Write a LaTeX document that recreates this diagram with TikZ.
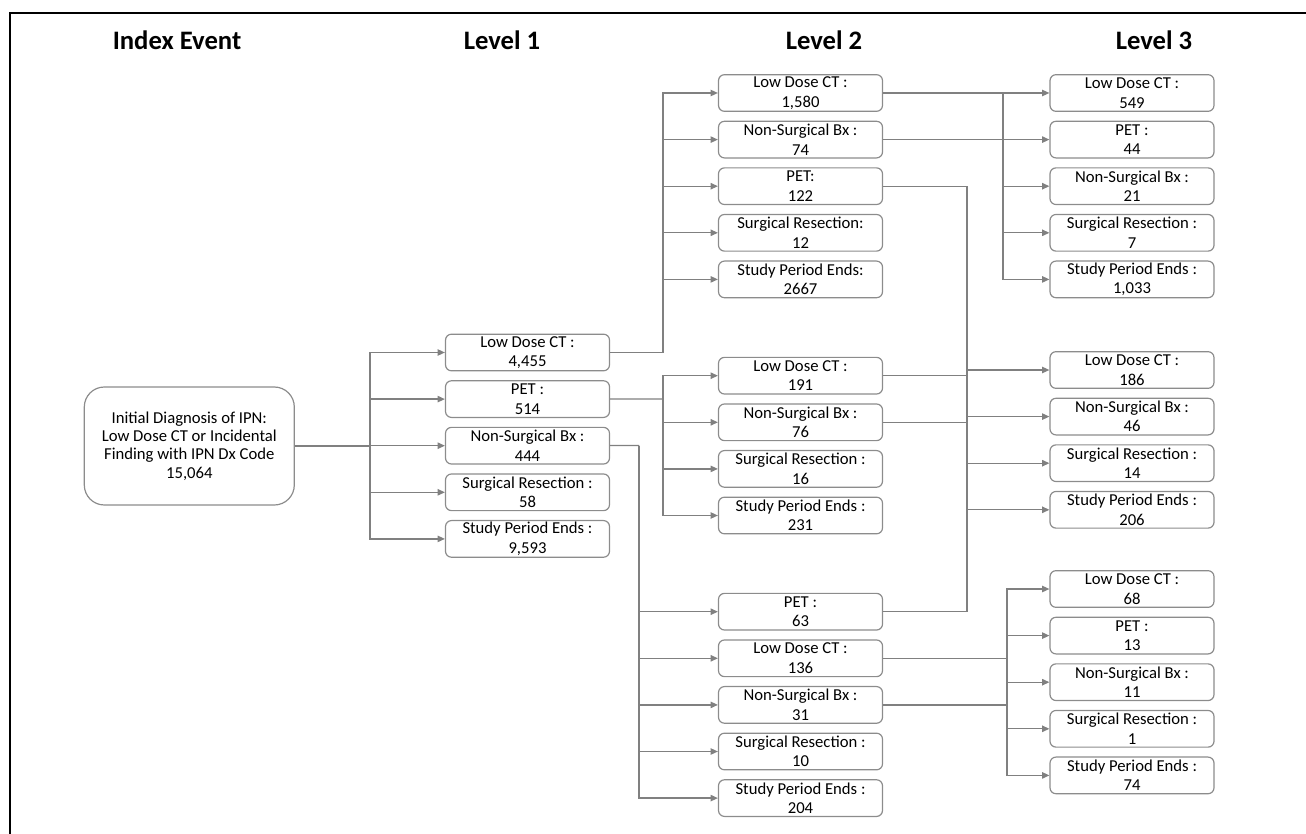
\documentclass[tikz,border=0pt]{standalone}
\usepackage{fontspec}
\setmainfont{Carlito}
\usetikzlibrary{arrows.meta, positioning}
\definecolor{linegray}{RGB}{128,128,128}
\definecolor{boxgray}{RGB}{140,140,140}

\begin{document}
\begin{tikzpicture}[
    x=0.75pt, y=-0.75pt,
    box/.style={rectangle, rounded corners=4.5pt, draw=boxgray, line width=0.9pt,
                minimum width=123pt, minimum height=27.5pt, inner sep=0pt,
                font=\fontsize{12.5}{14.5}\selectfont, align=center},
    head/.style={font=\fontsize{20}{24}\selectfont\bfseries, anchor=base},
    line/.style={draw=linegray, line width=1pt},
    arrow/.style={line, -{Triangle[length=5.5pt, width=4.8pt]}},
    node distance=6.55pt
  ]
    \useasboundingbox (0,0) rectangle (1306,834);
    \draw[line width=1.6pt] (10,834) -- (10,13) -- (1306,13);

    \node[head] (hidx) at (177,50) {Index Event};
    \node[head] (hl1)  at (502,50) {Level 1};
    \node[head] (hl2)  at (824,50) {Level 2};
    \node[head] (hl3)  at (1154,50) {Level 3};

    \node[box, minimum width=157.5pt, minimum height=88.5pt, rounded corners=15pt,
          font=\fontsize{12.5}{13.8}\selectfont]
        (init) at (189.3,446) {Initial Diagnosis of IPN:\\Low Dose CT or Incidental\\Finding with IPN Dx Code\\15,064};

    \node[box] (l1ldct) at (527.5,352.5) {Low Dose CT :\\4,455};
    \node[box, below=of l1ldct] (l1pet) {PET :\\514};
    \node[box, below=of l1pet]  (l1nsb) {Non-Surgical Bx :\\444};
    \node[box, below=of l1nsb]  (l1sr)  {Surgical Resection :\\58};
    \node[box, below=of l1sr]   (l1spe) {Study Period Ends :\\9,593};

    \node[box] (l2ldcta) at (800.5,93) {Low Dose CT :\\1,580};
    \node[box, below=of l2ldcta] (l2nsba) {Non-Surgical Bx :\\74};
    \node[box, below=of l2nsba]  (l2peta) {PET:\\122};
    \node[box, below=of l2peta]  (l2sra)  {Surgical Resection:\\12};
    \node[box, below=of l2sra]   (l2spea) {Study Period Ends:\\2667};

    \node[box] (l2ldctb) at (800.5,375.7) {Low Dose CT :\\191};
    \node[box, below=of l2ldctb] (l2nsbb) {Non-Surgical Bx :\\76};
    \node[box, below=of l2nsbb]  (l2srb)  {Surgical Resection :\\16};
    \node[box, below=of l2srb]   (l2speb) {Study Period Ends :\\231};

    \node[box] (l2petc) at (800.5,611.7) {PET :\\63};
    \node[box, below=of l2petc]  (l2ldctc) {Low Dose CT :\\136};
    \node[box, below=of l2ldctc] (l2nsbc)  {Non-Surgical Bx :\\31};
    \node[box, below=of l2nsbc]  (l2src)   {Surgical Resection :\\10};
    \node[box, below=of l2src]   (l2spec)  {Study Period Ends :\\204};

    \node[box] (l3ldcta) at (1132,93) {Low Dose CT :\\549};
    \node[box, below=of l3ldcta] (l3peta) {PET :\\44};
    \node[box, below=of l3peta]  (l3nsba) {Non-Surgical Bx :\\21};
    \node[box, below=of l3nsba]  (l3sra)  {Surgical Resection :\\7};
    \node[box, below=of l3sra]   (l3spea) {Study Period Ends :\\1,033};

    \node[box] (l3ldctb) at (1132,370) {Low Dose CT :\\186};
    \node[box, below=of l3ldctb] (l3nsbb) {Non-Surgical Bx :\\46};
    \node[box, below=of l3nsbb]  (l3srb)  {Surgical Resection :\\14};
    \node[box, below=of l3srb]   (l3speb) {Study Period Ends :\\206};

    \node[box] (l3ldctc) at (1132,589) {Low Dose CT :\\68};
    \node[box, below=of l3ldctc] (l3petc) {PET :\\13};
    \node[box, below=of l3petc]  (l3nsbc) {Non-Surgical Bx :\\11};
    \node[box, below=of l3nsbc]  (l3src)  {Surgical Resection :\\1};
    \node[box, below=of l3src]   (l3spec) {Study Period Ends :\\74};

    \coordinate (j0) at (370,446);
    \coordinate (j1) at (663,352.5);
    \coordinate (j2) at (663,399);
    \coordinate (j3) at (639,445.5);
    \coordinate (j4) at (1003,93);
    \coordinate (j5) at (967,400);
    \coordinate (j6) at (1007,658.3);

    \draw[line] (init) -- (j0);
    \draw[arrow] (j0) |- (l1ldct);
    \draw[arrow] (j0) |- (l1pet);
    \draw[arrow] (j0) |- (l1nsb);
    \draw[arrow] (j0) |- (l1sr);
    \draw[arrow] (j0) |- (l1spe);

    \draw[line] (l1ldct) -- (j1);
    \draw[arrow] (j1) |- (l2ldcta);
    \draw[arrow] (j1) |- (l2nsba);
    \draw[arrow] (j1) |- (l2peta);
    \draw[arrow] (j1) |- (l2sra);
    \draw[arrow] (j1) |- (l2spea);

    \draw[line] (l1pet) -- (j2);
    \draw[arrow] (j2) |- (l2ldctb);
    \draw[arrow] (j2) |- (l2nsbb);
    \draw[arrow] (j2) |- (l2srb);
    \draw[arrow] (j2) |- (l2speb);

    \draw[line] (l1nsb) -- (j3);
    \draw[arrow] (j3) |- (l2petc);
    \draw[arrow] (j3) |- (l2ldctc);
    \draw[arrow] (j3) |- (l2nsbc);
    \draw[arrow] (j3) |- (l2src);
    \draw[arrow] (j3) |- (l2spec);

    \draw[line] (l2ldcta) -- (j4);
    \draw[line] (l2nsba) -- (l2nsba -| j4);
    \draw[arrow] (j4) |- (l3ldcta);
    \draw[arrow] (j4) |- (l3peta);
    \draw[arrow] (j4) |- (l3nsba);
    \draw[arrow] (j4) |- (l3sra);
    \draw[arrow] (j4) |- (l3spea);

    \draw[line] (l2peta) -| (j5) |- (l2petc);
    \draw[line] (l2ldctb) -- (l2ldctb -| j5);
    \draw[line] (l2nsbb) -- (l2nsbb -| j5);
    \draw[arrow] (j5) |- (l3ldctb);
    \draw[arrow] (j5) |- (l3nsbb);
    \draw[arrow] (j5) |- (l3srb);
    \draw[arrow] (j5) |- (l3speb);

    \draw[line] (l2ldctc) -- (j6);
    \draw[line] (l2nsbc) -- (l2nsbc -| j6);
    \draw[arrow] (j6) |- (l3ldctc);
    \draw[arrow] (j6) |- (l3petc);
    \draw[arrow] (j6) |- (l3nsbc);
    \draw[arrow] (j6) |- (l3src);
    \draw[arrow] (j6) |- (l3spec);
  \end{tikzpicture}
\end{document}
